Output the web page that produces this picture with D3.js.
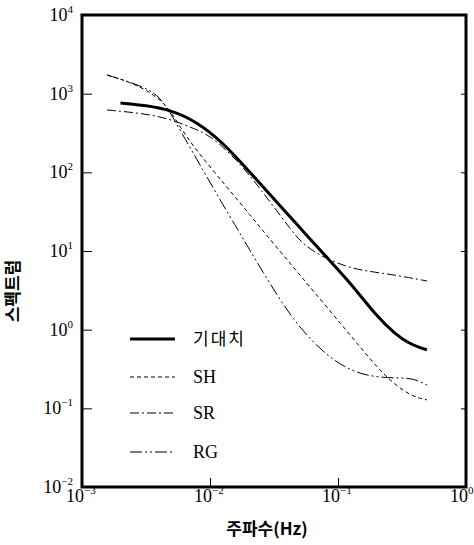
<!DOCTYPE html>
<html>
<head>
<meta charset="utf-8">
<script src="https://cdn.jsdelivr.net/npm/d3@7"></script>
<style>
  body { margin: 0; background: #fff; }
  svg { display: block; }
</style>
</head>
<body>
<svg></svg>
<script>
// values (frequency in Hz, spectrum)
var freqExp = [0.002, 0.00316, 0.00501, 0.00794, 0.0126, 0.02, 0.0316, 0.0501, 0.0794, 0.126, 0.2, 0.282, 0.355, 0.447, 0.495];
var valExp  = [759, 708, 617, 437, 240, 105, 45.7, 20, 8.7, 3.89, 1.48, 0.87, 0.676, 0.582, 0.556];

var freqSH = [0.00157, 0.00237, 0.0034, 0.00445, 0.00533, 0.00698, 0.0136, 0.0205, 0.0294, 0.0445, 0.0627, 0.1094, 0.1486, 0.205, 0.269, 0.378, 0.495];
var valSH  = [1726, 1407, 1050, 740, 491, 236, 64.6, 28.8, 14.1, 6.3, 3.24, 1.1, 0.603, 0.324, 0.209, 0.141, 0.128];

var freqSR = [0.00157, 0.00284, 0.00461, 0.00698, 0.01, 0.01625, 0.0246, 0.0445, 0.0552, 0.079, 0.1135, 0.1486, 0.279, 0.495];
var valSR  = [620, 567, 491, 377, 299, 144, 63, 17, 11.6, 8.1, 6.45, 5.7, 4.96, 4.16];

var freqRG = [0.00157, 0.00237, 0.0034, 0.00407, 0.00487, 0.00583, 0.00836, 0.012, 0.01655, 0.0205, 0.026, 0.034, 0.0445, 0.0604, 0.0866, 0.131, 0.195, 0.279, 0.385, 0.495];
var valRG  = [1726, 1407, 1114, 881, 585, 345, 124, 44.5, 18.5, 10.2, 5.37, 2.63, 1.38, 0.76, 0.437, 0.29, 0.25, 0.243, 0.243, 0.198];

var xTicks = [1e-3, 1e-2, 1e-1, 1e0];
var xTickExp = ["-3", "-2", "-1", "0"];
var yTicks = [1e-2, 1e-1, 1e0, 1e1, 1e2, 1e3, 1e4];
var yTickExp = ["-2", "-1", "0", "1", "2", "3", "4"];

var legendNames = ["기대치", "SH", "SR", "RG"];

var width = 474, height = 545;
var margin = {top: 15, right: 8, bottom: 58, left: 82};
var w = width - margin.left - margin.right;
var h = height - margin.top - margin.bottom;

const svg = d3.select("svg")
    .attr("width", width)
    .attr("height", height);

var g = svg.append("g")
    .attr("transform", "translate(" + margin.left + "," + margin.top + ")");

var x = d3.scaleLog().domain([1e-3, 1e0]).range([0, w]);
var y = d3.scaleLog().domain([1e-2, 1e4]).range([h, 0]);

var serif = "'Liberation Serif', 'DejaVu Serif', serif";
var kfont = "'Noto Sans CJK KR', sans-serif";

// ticks on all four sides, pointing inward
g.append("g")
    .call(d3.axisLeft(y).tickValues(yTicks).tickSize(-10).tickFormat(""))
    .call(a => a.select(".domain").remove());
g.append("g")
    .attr("transform", "translate(" + w + ",0)")
    .call(d3.axisRight(y).tickValues(yTicks.slice(1, -1)).tickSize(-5).tickFormat(""))
    .call(a => a.select(".domain").remove());
g.append("g")
    .attr("transform", "translate(0," + h + ")")
    .call(d3.axisBottom(x).tickValues(xTicks.slice(1, -1)).tickSize(-9).tickFormat(""))
    .call(a => a.select(".domain").remove());
g.selectAll(".tick line").attr("stroke", "#000").attr("stroke-width", 1);

// tick labels as 10 with superscript
yTicks.forEach((t, i) => {
    var txt = g.append("text")
        .attr("x", -9)
        .attr("y", y(t) + 6)
        .attr("text-anchor", "end")
        .attr("font-family", serif)
        .attr("font-size", 18);
    txt.append("tspan").text("10");
    txt.append("tspan").attr("dy", -8).attr("font-size", 11).text(yTickExp[i].replace("-", "\u2212"));
});
xTicks.forEach((t, i) => {
    var txt = g.append("text")
        .attr("x", x(t) - 16)
        .attr("y", h + 15)
        .attr("font-family", serif)
        .attr("font-size", 18);
    txt.append("tspan").text("10");
    txt.append("tspan").attr("dy", -8).attr("font-size", 11).text(xTickExp[i].replace("-", "\u2212"));
});

// frame
g.append("rect")
    .attr("width", w)
    .attr("height", h)
    .attr("fill", "none")
    .attr("stroke", "#000")
    .attr("stroke-width", 3);

var line = d3.line()
    .x(d => x(d[0]))
    .y(d => y(d[1]))
    .curve(d3.curveBasis);

var series = [
    {f: freqExp, v: valExp, width: 3, dash: null},
    {f: freqSH, v: valSH, width: 1, dash: "4,3"},
    {f: freqSR, v: valSR, width: 1, dash: "9,3,2,3"},
    {f: freqRG, v: valRG, width: 1, dash: "12,3,2,3,2,3"}
];

series.forEach(s => {
    g.append("path")
        .datum(d3.zip(s.f, s.v))
        .attr("d", line)
        .attr("fill", "none")
        .attr("stroke", "#000")
        .attr("stroke-width", s.width)
        .attr("stroke-dasharray", s.dash);
});

// legend
var legY = [339, 377, 413, 452];
series.forEach((s, i) => {
    svg.append("line")
        .attr("x1", 130).attr("x2", 175)
        .attr("y1", legY[i]).attr("y2", legY[i])
        .attr("stroke", "#000")
        .attr("stroke-width", s.width)
        .attr("stroke-dasharray", s.dash);
    svg.append("text")
        .attr("x", 193)
        .attr("y", legY[i] + 6)
        .attr("font-family", i == 0 ? kfont : serif)
        .attr("font-size", i == 0 ? 17 : 18)
        .attr("letter-spacing", i == 0 ? 2 : 0)
        .text(legendNames[i]);
});

// axis titles
svg.append("text")
    .attr("x", 267)
    .attr("y", 535)
    .attr("text-anchor", "middle")
    .attr("font-family", kfont)
    .attr("font-weight", "bold")
    .attr("font-size", 17)
    .text("주파수(Hz)");

svg.append("text")
    .attr("transform", "translate(19,291) rotate(-90)")
    .attr("text-anchor", "middle")
    .attr("font-family", kfont)
    .attr("font-weight", "bold")
    .attr("font-size", 17)
    .text("스펙트럼");
</script>
</body>
</html>
